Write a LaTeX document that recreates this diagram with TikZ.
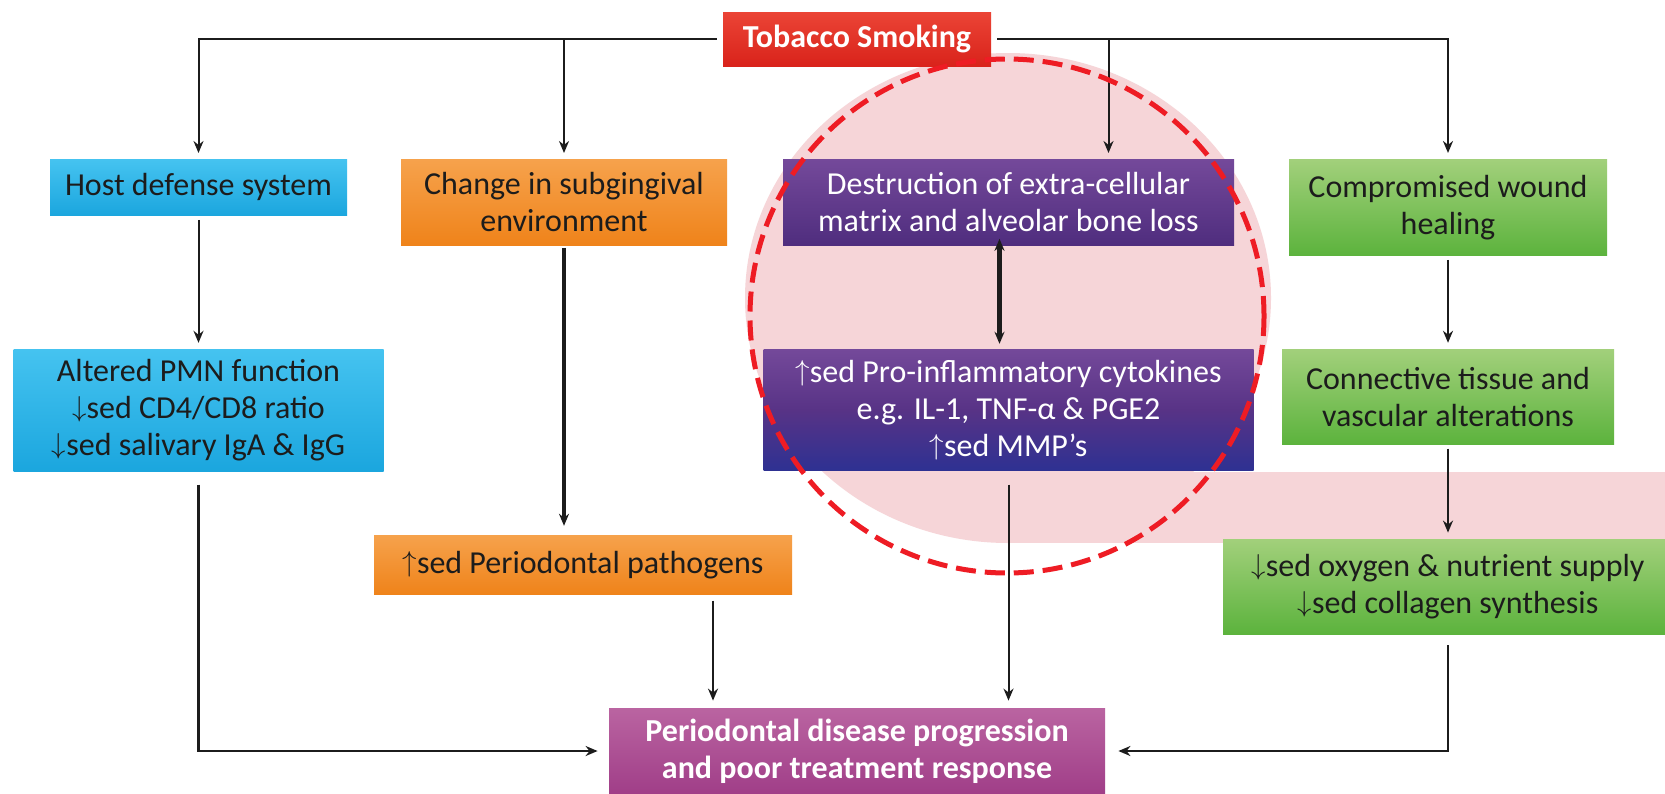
\documentclass[tikz,border=0pt]{standalone}
\usepackage{fontspec}
\setmainfont{Carlito}
\usepackage{tikz}
\usetikzlibrary{arrows.meta,positioning}
\definecolor{SmokeTop}{HTML}{EB4436}
\definecolor{SmokeBot}{HTML}{D9231B}
\definecolor{HostTop}{HTML}{45C3F0}
\definecolor{HostBot}{HTML}{1BA6DE}
\definecolor{SubTop}{HTML}{F6A24C}
\definecolor{SubBot}{HTML}{EF831A}
\definecolor{EcmTop}{HTML}{74499A}
\definecolor{EcmBot}{HTML}{4F2D7E}
\definecolor{ProMid}{HTML}{583386}
\definecolor{ProBot}{HTML}{2E3192}
\definecolor{HealTop}{HTML}{A2D07B}
\definecolor{HealBot}{HTML}{5CB33D}
\definecolor{PerioTop}{HTML}{BA64A1}
\definecolor{PerioBot}{HTML}{A03E88}
\definecolor{PinkHl}{HTML}{F6D5D8}
\definecolor{RingRed}{HTML}{EE1C24}
\definecolor{Ink}{HTML}{1C1C1C}
\newcommand{\incr}{\raisebox{1pt}{\fontsize{14}{14}\selectfont$\uparrow$}}
\newcommand{\decr}{\raisebox{1pt}{\fontsize{14}{14}\selectfont$\downarrow$}}

\begin{document}
\begin{tikzpicture}[
  x=0.5pt, y=-0.5pt,
  box/.style={rectangle, align=center, inner sep=0pt, font=\fontsize{16}{18.5}\selectfont},
  smokebox/.style={box, top color=SmokeTop, bottom color=SmokeBot, text=white, font=\fontsize{16}{18.5}\selectfont\bfseries},
  hostbox/.style={box, top color=HostTop, bottom color=HostBot, text=Ink},
  subbox/.style={box, top color=SubTop, bottom color=SubBot, text=Ink},
  ecmbox/.style={box, top color=EcmTop, bottom color=EcmBot, text=white},
  probox/.style={box, top color=EcmTop, bottom color=ProBot, middle color=ProMid, text=white},
  healbox/.style={box, top color=HealTop, bottom color=HealBot, text=Ink},
  periobox/.style={box, top color=PerioTop, bottom color=PerioBot, text=white, font=\fontsize{16}{18.5}\selectfont\bfseries},
  arr/.style={-{Stealth[length=6pt,width=5pt]}, line width=1pt, Ink, shorten <=3pt, shorten >=3pt},
  thickarr/.style={arr, line width=2.4pt},
  ring/.style={RingRed, line width=2.5pt, dash pattern=on 10pt off 4.5pt}
]
\useasboundingbox (0,0) rectangle (1665,793);
\fill[white] (0,0) rectangle (1665,793);
% highlight behind the middle column
\fill[PinkHl] (1008,298) ellipse [x radius=131.5pt, y radius=122.5pt];
\fill[PinkHl] (1008,472) rectangle (1665,543);

\node[smokebox, minimum width=134pt, minimum height=27pt] (smoke) at (857,39) {Tobacco Smoking};
\node[hostbox, anchor=north, minimum width=148.5pt, minimum height=28pt] (host) at (198.5,159) {Host defense system};
\node[subbox, anchor=north, minimum width=163pt, minimum height=43pt] (sub) at (564,159) {Change in subgingival\\environment};
\node[ecmbox, anchor=north, minimum width=225.5pt, minimum height=43pt] (ecm) at (1008.5,159) {Destruction of extra-cellular\\matrix and alveolar bone loss};
\node[healbox, anchor=north, minimum width=159pt, minimum height=48pt] (heal) at (1448,159) {Compromised wound\\healing};
\node[hostbox, below=66.5pt of host, minimum width=185pt, minimum height=61pt] (pmn) {Altered PMN function\\\decr sed CD4/CD8 ratio\\\decr sed salivary IgA \& IgG};
\node[subbox, below=144.5pt of sub, xshift=9.5pt, minimum width=209pt, minimum height=29.5pt] (path) {\incr sed Periodontal pathogens};
\node[probox, below=51.5pt of ecm, minimum width=245pt, minimum height=60.5pt] (pro) {\incr sed Pro-inflammatory cytokines\\e.g. IL-1, TNF-α \& PGE2\\\incr sed MMP’s};
\node[healbox, below=46.5pt of heal, minimum width=166pt, minimum height=47.5pt] (conn) {Connective tissue and\\vascular alterations};
\node[healbox, below=47pt of conn, minimum width=225pt, minimum height=47.5pt] (oxy) {\decr sed oxygen \& nutrient supply\\\decr sed collagen synthesis};
\node[periobox, minimum width=248pt, minimum height=43pt] (perio) at (857,751) {Periodontal disease progression\\and poor treatment response};

% branches from the smoking box
\draw[arr] (smoke.west) -| (host.north);
\draw[arr] (smoke.west) -| (sub.north);
\draw[arr] (smoke.east) -| ([xshift=50pt]ecm.north);
\draw[arr] (smoke.east) -| (heal.north);
\foreach \a/\b in {host/pmn, heal/conn, conn/oxy} {\draw[arr, shorten <=2pt] (\a) -- (\b);}
\draw[thickarr, shorten <=1pt, shorten >=4.5pt] (sub.south) -- (sub.south |- path.north);
\draw[thickarr, {Stealth[length=6pt,width=5pt]}-{Stealth[length=6pt,width=5pt]}, shorten <=-3.5pt, shorten >=2.5pt] ([xshift=-4.5pt]ecm.south) -- ([xshift=-4.5pt]ecm.south |- pro.north);
% into the outcome box
\draw[arr, line width=1.4pt, shorten <=6.5pt, shorten >=5.5pt] (pmn.south) |- (perio.west);
\draw[arr, shorten >=3.5pt] ([xshift=65pt]path.south) -- ([xshift=65pt]path.south |- perio.north);
\draw[arr, shorten <=7pt, shorten >=3.5pt] (pro.south) -- (pro.south |- perio.north);
\draw[arr, line width=1.4pt, shorten <=5.5pt, shorten >=6.5pt] (oxy.south) |- (perio.east);

\draw[ring] (1007,316) circle [radius=128.5pt];
\end{tikzpicture}
\end{document}
